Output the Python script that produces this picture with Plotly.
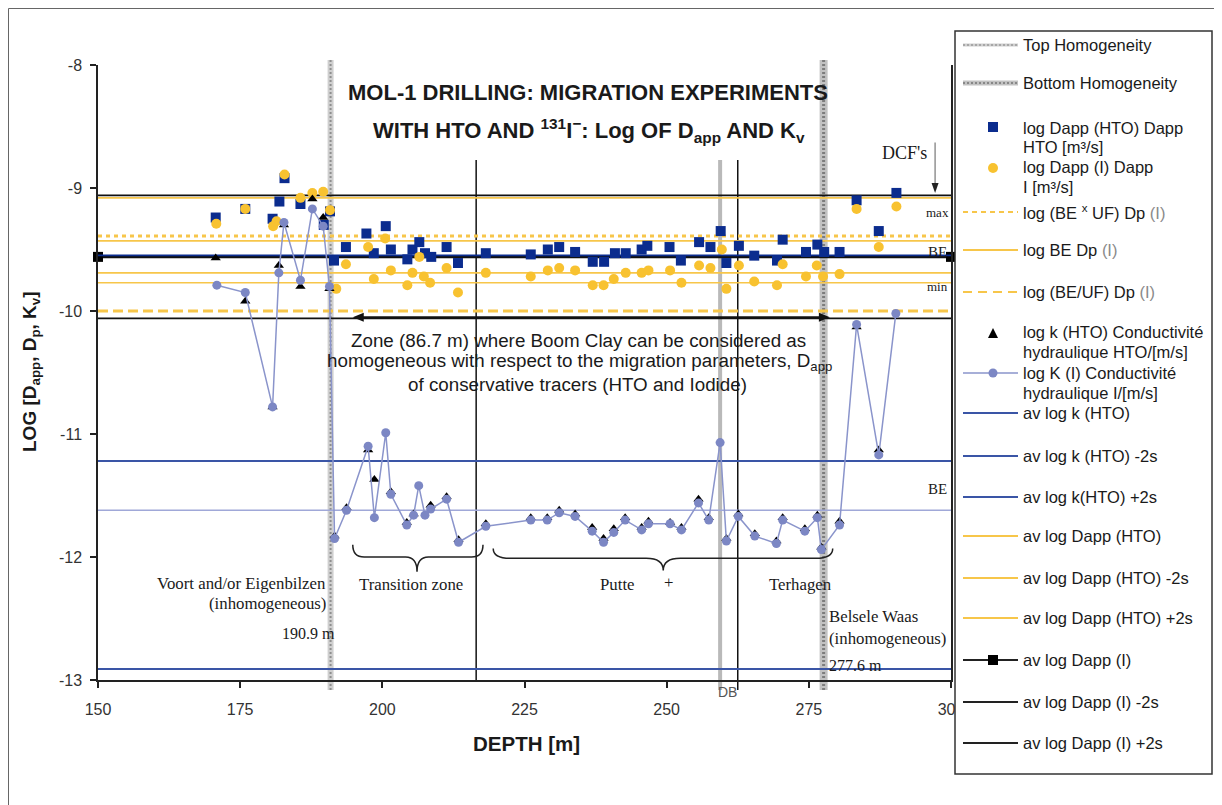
import plotly.graph_objects as go

# ------------------------------------------------------------------ data
depth_dapp_hto = [170.7, 175.9, 180.7, 181.9, 182.8, 185.6, 189.7, 190.8, 191.5, 193.6,
                  197.2, 198.5, 200.6, 201.5, 204.4, 205.3, 206.5, 207.5, 208.6, 211.3,
                  213.3, 218.2, 226.1, 229.1, 231.1, 233.9, 237.0, 239.0, 240.9, 242.8,
                  245.6, 246.6, 250.5, 252.5, 255.7, 257.7, 259.5, 260.5, 262.7, 265.4,
                  269.4, 270.4, 274.5, 276.5, 277.7, 280.4, 283.4, 287.3, 290.4]
log_dapp_hto = [-9.24, -9.17, -9.25, -9.11, -8.92, -9.13, -9.30, -9.19, -9.59, -9.48,
                -9.37, -9.53, -9.31, -9.50, -9.58, -9.50, -9.44, -9.53, -9.56, -9.48,
                -9.61, -9.53, -9.54, -9.50, -9.48, -9.52, -9.60, -9.60, -9.53, -9.53,
                -9.50, -9.47, -9.48, -9.59, -9.44, -9.48, -9.35, -9.61, -9.47, -9.55,
                -9.59, -9.42, -9.52, -9.46, -9.52, -9.52, -9.10, -9.35, -9.04]

depth_dapp_i = [170.8, 175.9, 180.8, 181.4, 182.8, 185.6, 187.7, 189.6, 190.8, 191.9,
                193.6, 197.5, 198.5, 200.5, 201.5, 204.4, 205.3, 206.5, 207.3, 208.4,
                211.3, 213.3, 218.2, 226.1, 229.1, 231.1, 233.9, 237.0, 238.9, 240.7,
                242.8, 245.6, 246.8, 250.6, 252.6, 255.7, 257.7, 259.7, 260.5, 262.7,
                265.4, 269.4, 270.4, 274.5, 276.4, 277.5, 280.4, 283.4, 287.3, 290.4]
log_dapp_i = [-9.29, -9.17, -9.31, -9.27, -8.89, -9.08, -9.04, -9.03, -9.18, -9.82,
              -9.62, -9.48, -9.74, -9.41, -9.67, -9.79, -9.69, -9.56, -9.72, -9.77,
              -9.65, -9.85, -9.69, -9.72, -9.67, -9.65, -9.67, -9.79, -9.79, -9.74,
              -9.69, -9.69, -9.67, -9.67, -9.77, -9.63, -9.65, -9.50, -9.82, -9.63,
              -9.76, -9.79, -9.62, -9.72, -9.63, -9.72, -9.70, -9.17, -9.48, -9.15]

depth_k_i = [170.9, 175.9, 180.7, 181.8, 182.7, 185.6, 187.7, 189.6, 190.7, 191.6,
             193.7, 197.5, 198.6, 200.6, 201.5, 204.3, 205.5, 206.4, 207.5, 208.5,
             211.3, 213.4, 218.2, 226.1, 229.0, 231.1, 233.9, 236.9, 238.9, 240.7,
             242.7, 245.6, 246.8, 250.6, 252.6, 255.6, 257.4, 259.4, 260.5, 262.6,
             265.5, 269.3, 270.4, 274.3, 276.5, 277.2, 280.4, 283.4, 287.3, 290.3]
log_k_i = [-9.79, -9.85, -10.78, -9.69, -9.28, -9.75, -9.17, -9.31, -9.80, -11.85,
           -11.62, -11.10, -11.68, -10.99, -11.49, -11.74, -11.66, -11.42, -11.66, -11.61,
           -11.53, -11.88, -11.75, -11.70, -11.70, -11.64, -11.67, -11.79, -11.88, -11.80,
           -11.70, -11.78, -11.73, -11.73, -11.78, -11.56, -11.70, -11.07, -11.87, -11.67,
           -11.83, -11.89, -11.70, -11.79, -11.68, -11.94, -11.74, -10.11, -11.17, -10.02]

depth_k_hto = [170.7, 175.9, 180.7, 181.8, 182.7, 185.6, 187.7, 189.6, 190.7, 191.6,
               193.7, 197.5, 198.6, 201.5, 204.3, 205.5, 208.5, 211.3, 213.4, 218.2,
               226.1, 229.0, 231.1, 233.9, 236.9, 238.9, 240.7, 242.7, 245.6, 246.8,
               250.6, 252.6, 255.6, 257.4, 260.5, 262.6, 265.5, 269.3, 270.4, 274.3,
               276.5, 277.2, 280.4, 283.4, 287.3]
log_k_hto = [-9.57, -9.92, -10.78, -9.63, -9.30, -9.80, -9.09, -9.24, -9.82, -11.83,
             -11.60, -11.13, -11.37, -11.47, -11.72, -11.65, -11.58, -11.51, -11.86, -11.73,
             -11.68, -11.68, -11.62, -11.65, -11.76, -11.85, -11.77, -11.68, -11.76, -11.71,
             -11.72, -11.76, -11.53, -11.68, -11.85, -11.65, -11.81, -11.87, -11.68, -11.77,
             -11.66, -11.92, -11.71, -10.13, -11.13]

# reference levels (log units)
av_log_k_hto = -11.62
av_log_k_hto_minus2s = -12.91
av_log_k_hto_plus2s = -11.22
av_log_dapp_hto = -9.43
av_log_dapp_hto_minus2s = -9.77
av_log_dapp_hto_plus2s = -9.08
av_log_dapp_i = -9.56
av_log_dapp_i_minus2s = -10.06
av_log_dapp_i_plus2s = -9.06
log_be_dp_i = -9.69
log_be_x_uf_dp_i = -9.39
log_be_div_uf_dp_i = -10.00

# depth markers (m)
top_homogeneity = 190.9
bottom_homogeneity = 277.6
unit_boundary_1 = 216.5
db_boundary = 259.4
unit_boundary_2 = 262.5

x_range = [150, 300]
y_range = [-13, -8]
x_ticks = [150, 175, 200, 225, 250, 275, 300]
y_ticks = [-13, -12, -11, -10, -9, -8]
y_tick_labels = ["-13", "-12", "-11", "-10", "-9", "-8"]

# ------------------------------------------------------------------ style
# positions below are given in page pixels; the page body has an 8 px margin
OFF = 8
PL, PR, PT, PB = 98, 951, 65, 680
W, H = 1222 - OFF, 805 - OFF
XU = (x_range[1] - x_range[0]) / (PR - PL)   # metres per pixel
YU = (y_range[1] - y_range[0]) / (PB - PT)   # log units per pixel


def fx(p):
    return (p - PL) / (PR - PL)


def fy(p):
    return (PB - p) / (PB - PT)


SANS = "Liberation Sans, Arial, sans-serif"
SERIF = "Liberation Serif, Times New Roman, serif"
GOLD = "#F8C230"
GOLD_LINE = "#F7C64A"
NAVY = "#0B2C8E"
LAV = "#8A94CB"
LAV_M = "#7C87C4"
BLUE = "#3A55A6"
BLUE_LIGHT = "#A0A8D8"
TXT = "#1a1a1a"
LEG = 16.5
SER = 16.8

fig = go.Figure()


def hline(level, color, width, dash="solid"):
    fig.add_trace(go.Scatter(x=x_range, y=[level, level], mode="lines",
                             line=dict(color=color, width=width, dash=dash),
                             showlegend=False, hoverinfo="skip"))


hline(av_log_k_hto_minus2s, BLUE, 2)
hline(av_log_k_hto_plus2s, BLUE, 2)
hline(av_log_k_hto, BLUE_LIGHT, 1.6)
hline(av_log_dapp_hto_plus2s, GOLD_LINE, 1.6)
hline(av_log_dapp_hto, GOLD_LINE, 1.6)
hline(av_log_dapp_hto_minus2s, GOLD_LINE, 1.6)
hline(log_be_dp_i, GOLD_LINE, 1.6)
hline(log_be_x_uf_dp_i, GOLD_LINE, 3, "4px,4px")
hline(log_be_div_uf_dp_i, GOLD_LINE, 3, "10px,5px")
hline(av_log_dapp_i_plus2s, "#111", 1.6)
hline(av_log_dapp_i_minus2s, "#111", 1.6)
fig.add_trace(go.Scatter(x=x_range, y=[av_log_dapp_i, av_log_dapp_i], mode="lines+markers",
                         line=dict(color="#111", width=2.5),
                         marker=dict(symbol="square", size=10, color="#000"),
                         cliponaxis=False, showlegend=False, hoverinfo="skip"))
fig.add_trace(go.Scatter(x=x_range, y=[av_log_dapp_i + 0.012, av_log_dapp_i + 0.012], mode="lines",
                         line=dict(color=NAVY, width=1.8), showlegend=False, hoverinfo="skip"))

fig.add_trace(go.Scatter(x=depth_dapp_hto, y=log_dapp_hto, mode="markers",
                         marker=dict(symbol="square", size=10, color=NAVY),
                         showlegend=False))
fig.add_trace(go.Scatter(x=depth_dapp_i, y=log_dapp_i, mode="markers",
                         marker=dict(symbol="circle", size=10, color=GOLD),
                         showlegend=False))
fig.add_trace(go.Scatter(x=depth_k_hto, y=log_k_hto, mode="markers",
                         marker=dict(symbol="triangle-up", size=9, color="#000"),
                         showlegend=False))
fig.add_trace(go.Scatter(x=depth_k_i, y=log_k_i, mode="lines+markers",
                         line=dict(color=LAV, width=1.5),
                         marker=dict(symbol="circle", size=9, color=LAV_M),
                         showlegend=False))

shapes = []


def vline(xv, top_px, bot_px, color, width, dash="solid"):
    shapes.append(dict(type="line", xref="x", yref="paper", x0=xv, x1=xv,
                       y0=fy(bot_px), y1=fy(top_px), layer="below",
                       line=dict(color=color, width=width, dash=dash)))


vline(top_homogeneity, 60, 690, "#cfcfcf", 6)
vline(top_homogeneity, 60, 690, "#8f8f8f", 2, "2px,2px")
vline(bottom_homogeneity, 60, 690, "#c2c2c2", 8)
vline(bottom_homogeneity, 60, 690, "#7d7d7d", 3, "2px,2px")
vline(db_boundary, 160, 690, "#b9b9b9", 4)
vline(unit_boundary_1, 160, 680, "#111", 1.5)
vline(unit_boundary_2, 160, 690, "#111", 1.5)


def brace(x0, x1, xc, ytop, ymid, ytip, r):
    p = (f"M {x0},{ytop} Q {x0},{ymid} {x0 + r},{ymid} L {xc - r},{ymid} "
         f"Q {xc},{ymid} {xc},{ytip} Q {xc},{ymid} {xc + r},{ymid} "
         f"L {x1 - r},{ymid} Q {x1},{ymid} {x1},{ytop}")
    shapes.append(dict(type="path", xref="x", yref="y", path=p, layer="above",
                       line=dict(color="#222", width=1.5)))


brace(194.8, 217.7, 206.1, -11.90, -12.00, -12.12, 2.0)
brace(219.5, 279.2, 249.4, -11.93, -12.01, -12.11, 3.0)

# double arrow for the homogeneous zone, and the DCF arrow
zone_y = -10.05
zone_left, zone_right = 194.8, 278.7
hl, hw = 11 * XU, 4.5 * YU
shapes.append(dict(type="line", xref="x", yref="y", x0=zone_left + hl * 0.8, x1=zone_right - hl * 0.8,
                   y0=zone_y, y1=zone_y, layer="above", line=dict(color="#111", width=1.6)))
shapes.append(dict(type="path", xref="x", yref="y", layer="above", fillcolor="#111",
                   line=dict(width=0),
                   path=f"M {zone_left},{zone_y} L {zone_left + hl},{zone_y + hw} "
                        f"L {zone_left + hl},{zone_y - hw} Z"))
shapes.append(dict(type="path", xref="x", yref="y", layer="above", fillcolor="#111",
                   line=dict(width=0),
                   path=f"M {zone_right},{zone_y} L {zone_right - hl},{zone_y + hw} "
                        f"L {zone_right - hl},{zone_y - hw} Z"))
dcf_x, dcf_top, dcf_tip = 297.2, -8.63, -9.04
shapes.append(dict(type="line", xref="x", yref="y", x0=dcf_x, x1=dcf_x, y0=dcf_top,
                   y1=dcf_tip + 8 * YU, layer="above", line=dict(color="#777", width=1.2)))
shapes.append(dict(type="path", xref="x", yref="y", layer="above", fillcolor="#222",
                   line=dict(width=0),
                   path=f"M {dcf_x},{dcf_tip} L {dcf_x - 3.5 * XU},{dcf_tip + 10 * YU} "
                        f"L {dcf_x + 3.5 * XU},{dcf_tip + 10 * YU} Z"))

# outer frame and legend box
shapes.append(dict(type="rect", xref="paper", yref="paper", x0=fx(8.5), x1=fx(1219),
                   y0=fy(830), y1=fy(8.5), layer="above", line=dict(color="#666", width=1)))
shapes.append(dict(type="rect", xref="paper", yref="paper", x0=fx(955), x1=fx(1212),
                   y0=fy(774), y1=fy(31), layer="above", fillcolor="white",
                   line=dict(color="#333", width=1.5)))

annotations = []


def text(t, x, y, size, family=SANS, anchor="center", color=TXT, angle=0):
    annotations.append(dict(text=t, x=fx(x), y=fy(y), xref="paper", yref="paper",
                            xanchor=anchor, yanchor="middle", showarrow=False,
                            textangle=angle, font=dict(family=family, size=size, color=color)))


# legend entries
LX0, LX1, LXC, LT = 967, 1018, 993, 1021


def leg_line(y, color, width, dash="solid"):
    shapes.append(dict(type="line", xref="paper", yref="paper", x0=fx(LX0 - 4), x1=fx(LX1),
                       y0=fy(y), y1=fy(y), layer="above",
                       line=dict(color=color, width=width, dash=dash)))


leg_line(45, "#cfcfcf", 3)
leg_line(45, "#9a9a9a", 1.5, "2px,2px")
text("Top Homogeneity", LT, 45, LEG, anchor="left")
leg_line(83, "#c2c2c2", 5)
leg_line(83, "#888", 2, "2px,2px")
text("Bottom Homogeneity", LT, 83, LEG, anchor="left")
shapes.append(dict(type="rect", xref="paper", yref="paper", x0=fx(LXC - 5), x1=fx(LXC + 5),
                   y0=fy(132), y1=fy(122), layer="above", fillcolor=NAVY, line=dict(width=0)))
text("log Dapp (HTO) Dapp", LT, 128, LEG, anchor="left")
text("HTO [m³/s]", LT, 147, LEG, anchor="left")
shapes.append(dict(type="circle", xref="paper", yref="paper", x0=fx(LXC - 5), x1=fx(LXC + 5),
                   y0=fy(173), y1=fy(163), layer="above", fillcolor=GOLD, line=dict(width=0)))
text("log Dapp (I) Dapp", LT, 167, LEG, anchor="left")
text("I [m³/s]", LT, 187, LEG, anchor="left")
leg_line(212, GOLD_LINE, 2, "5px,4px")
text("log (BE <sup>x</sup> UF) Dp <span style='color:#8a8a8a'>(I)</span>", LT, 212, LEG, anchor="left")
leg_line(250, GOLD_LINE, 2)
text("log BE Dp <span style='color:#8a8a8a'>(I)</span>", LT, 250, LEG, anchor="left")
leg_line(292, GOLD_LINE, 2, "9px,6px")
text("log (BE/UF) Dp <span style='color:#8a8a8a'>(I)</span>", LT, 292, LEG, anchor="left")
shapes.append(dict(type="path", xref="paper", yref="paper", layer="above", fillcolor="#000",
                   line=dict(width=0),
                   path=f"M {fx(LXC - 5)},{fy(338)} L {fx(LXC + 5)},{fy(338)} L {fx(LXC)},{fy(328)} Z"))
text("log k (HTO) Conductivité", LT, 332, LEG, anchor="left")
text("hydraulique HTO/[m/s]", LT, 352, LEG, anchor="left")
leg_line(373, LAV, 1.5)
shapes.append(dict(type="circle", xref="paper", yref="paper", x0=fx(LXC - 4.5), x1=fx(LXC + 4.5),
                   y0=fy(377.5), y1=fy(368.5), layer="above", fillcolor=LAV_M, line=dict(width=0)))
text("log K (I) Conductivité", LT, 373, LEG, anchor="left")
text("hydraulique I/[m/s]", LT, 393, LEG, anchor="left")
leg_items = [(413, BLUE, "av log k (HTO)"), (456, BLUE, "av log k (HTO) -2s"),
             (497, BLUE, "av log k(HTO) +2s"), (536, GOLD_LINE, "av log Dapp (HTO)"),
             (578, GOLD_LINE, "av log Dapp (HTO) -2s"), (618, GOLD_LINE, "av log Dapp (HTO) +2s"),
             (660, "#222", "av log Dapp (I)"), (702, "#222", "av log Dapp (I) -2s"),
             (743, "#222", "av log Dapp (I) +2s")]
for yy, col, lab in leg_items:
    leg_line(yy, col, 2)
    text(lab, LT, yy, LEG, anchor="left")
shapes.append(dict(type="rect", xref="paper", yref="paper", x0=fx(LXC - 5), x1=fx(LXC + 5),
                   y0=fy(665), y1=fy(655), layer="above", fillcolor="#000", line=dict(width=0)))

# titles and labels
text("<b>MOL-1 DRILLING: MIGRATION EXPERIMENTS</b>", 588, 92, 22)
text("<b>WITH HTO AND <sup>131</sup>I<sup>−</sup>: Log OF D<sub>app</sub> AND K<sub>v</sub></b>",
     589, 130, 22)
text("<b>DEPTH [m]</b>", 526, 743, 20.5)
text("<b>LOG [D<sub>app</sub>, D<sub>p</sub>, K<sub>v</sub>]</b>", 31, 372, 19, angle=-90)
text("Zone (86.7 m) where Boom Clay can be considered as", 578, 340, 18.8)
text("homogeneous with respect to the migration parameters, D<sub>app</sub>", 579, 362, 18.8)
text("of conservative tracers (HTO and Iodide)", 577, 384, 18.8)
text("DCF's", 904, 153, 18, SERIF)
text("max", 937, 212, 13, SERIF)
text("BE", 937, 252, 15, SERIF)
text("min", 937, 286, 13, SERIF)
text("BE", 937, 489, 15, SERIF)
text("Voort and/or Eigenbilzen", 328, 583, SER, SERIF, anchor="right")
text("(inhomogeneous)", 328, 603, SER, SERIF, anchor="right")
text("190.9 m", 308, 633, 16, SERIF)
text("Transition zone", 411, 584, SER, SERIF)
text("Putte", 617, 584, SER, SERIF)
text("+", 668, 582, SER, SERIF)
text("Terhagen", 800, 584, SER, SERIF)
text("Belsele Waas", 827, 616, SER, SERIF, anchor="left")
text("(inhomogeneous)", 827, 638, SER, SERIF, anchor="left")
text("277.6 m", 827, 665, 16, SERIF, anchor="left")
text("DB", 727, 692, 14, color="#555")

fig.update_layout(
    width=W, height=H, autosize=False,
    margin=dict(l=PL - OFF, r=W - (PR - OFF), t=PT - OFF, b=H - (PB - OFF)),
    paper_bgcolor="white", plot_bgcolor="white",
    showlegend=False,
    shapes=shapes, annotations=annotations,
    xaxis=dict(range=x_range, tickvals=x_ticks, ticks="outside", ticklen=6, tickwidth=1.5,
               tickcolor="#222", showline=True, linecolor="#222", linewidth=2,
               showgrid=False, zeroline=False, ticklabelstandoff=8,
               tickfont=dict(family=SANS, size=16, color="#333")),
    yaxis=dict(range=y_range, tickvals=y_ticks, ticktext=y_tick_labels, ticks="outside",
               ticklen=6, tickwidth=1.5, tickcolor="#222", showline=True, linecolor="#222",
               linewidth=1.5, mirror=True, showgrid=False, zeroline=False,
               ticklabelstandoff=5, tickfont=dict(family=SANS, size=16, color="#333")),
)

fig.write_html("out.html")
